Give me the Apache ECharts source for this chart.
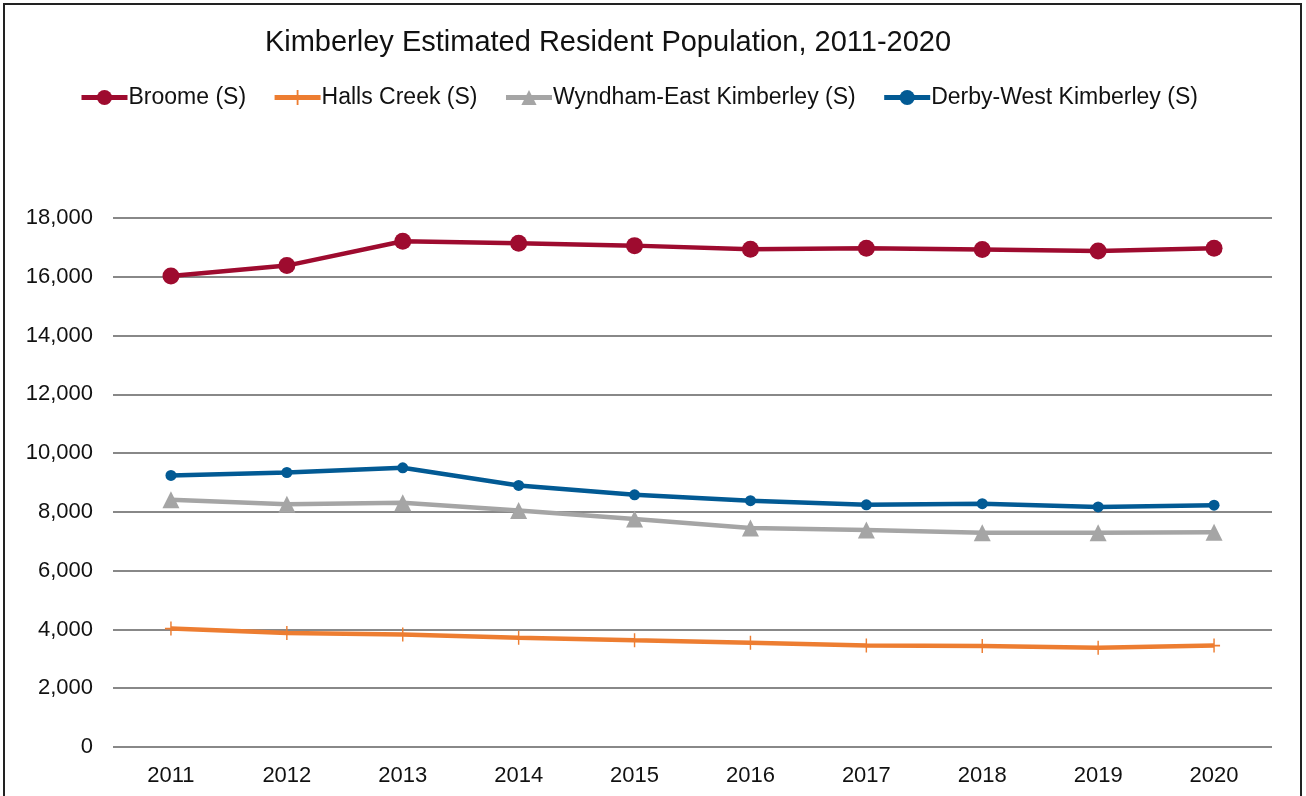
<!DOCTYPE html>
<html>
<head>
<meta charset="utf-8">
<script src="https://cdn.jsdelivr.net/npm/echarts@6/dist/echarts.min.js"></script>
<style>
html,body{margin:0;padding:0;background:#fff;}
#chart{width:1306px;height:796px;}
</style>
</head>
<body>
<div id="chart"></div>
<script>
const years = ['2011','2012','2013','2014','2015','2016','2017','2018','2019','2020'];
const broome = [16030, 16380, 17210, 17140, 17060, 16940, 16970, 16930, 16880, 16970];
const hallsCreek = [4030, 3880, 3830, 3720, 3630, 3550, 3450, 3440, 3380, 3450];
const wyndham = [8410, 8260, 8310, 8050, 7760, 7450, 7380, 7290, 7290, 7310];
const derby = [9240, 9340, 9500, 8900, 8580, 8380, 8240, 8280, 8170, 8230];
const seriesNames = ['Broome (S)', 'Halls Creek (S)', 'Wyndham-East Kimberley (S)', 'Derby-West Kimberley (S)'];
const yTicks = {min: 0, max: 18000, interval: 2000};

const plus = 'path://M4.4,0h1.2v4.4h4.4v1.2h-4.4v4.4h-1.2v-4.4h-4.4v-1.2h4.4z';
const font = 'Liberation Sans, Arial, sans-serif';

const chart = echarts.init(document.getElementById('chart'), null, {renderer: 'canvas'});
chart.setOption({
  animation: false,
  backgroundColor: '#fff',
  title: {
    text: 'Kimberley Estimated Resident Population, 2011-2020',
    left: 603, top: 23, textAlign: 'center',
    textStyle: {fontFamily: font, fontSize: 29, fontWeight: 'normal', color: '#111'}
  },
  legend: {
    top: 81, left: 74, itemGap: 26, itemWidth: 46, itemHeight: 19,
    textStyle: {fontFamily: font, fontSize: 23, color: '#111', padding: [0,0,0,-4]},
    lineStyle: {width: 5},
    data: seriesNames
  },
  grid: {left: 113, right: 34, top: 218, bottom: 49, containLabel: false},
  xAxis: {
    type: 'category', data: years, boundaryGap: true,
    axisLine: {show: false}, axisTick: {show: false},
    axisLabel: {fontFamily: font, fontSize: 22, color: '#111', margin: 18}
  },
  yAxis: {
    type: 'value', min: yTicks.min, max: yTicks.max, interval: yTicks.interval,
    axisLine: {show: false}, axisTick: {show: false},
    axisLabel: {fontFamily: font, fontSize: 22, color: '#111', margin: 20,
      formatter: v => v.toLocaleString('en-US')},
    splitLine: {lineStyle: {color: '#888', width: 2}}
  },
  series: [
    {name: seriesNames[0], type: 'line', data: broome, symbol: 'circle', symbolSize: 17,
     lineStyle: {color: '#9E0B2F', width: 4.5}, itemStyle: {color: '#9E0B2F'}, z: 4},
    {name: seriesNames[1], type: 'line', data: hallsCreek, symbol: plus, symbolSize: [12, 14],
     lineStyle: {color: '#ED7D31', width: 4.5}, itemStyle: {color: '#ED7D31'}, z: 3},
    {name: seriesNames[2], type: 'line', data: wyndham, symbol: 'triangle', symbolSize: 17,
     lineStyle: {color: '#A5A5A5', width: 4.5}, itemStyle: {color: '#A5A5A5'}, z: 2},
    {name: seriesNames[3], type: 'line', data: derby, symbol: 'circle', symbolSize: 11,
     lineStyle: {color: '#025A94', width: 4.5}, itemStyle: {color: '#025A94'}, z: 3}
  ],
  graphic: [{
    type: 'rect', silent: true, z: 100,
    shape: {x: 4, y: 4, width: 1297, height: 794},
    style: {fill: 'none', stroke: '#222', lineWidth: 2}
  }]
});
</script>
</body>
</html>
